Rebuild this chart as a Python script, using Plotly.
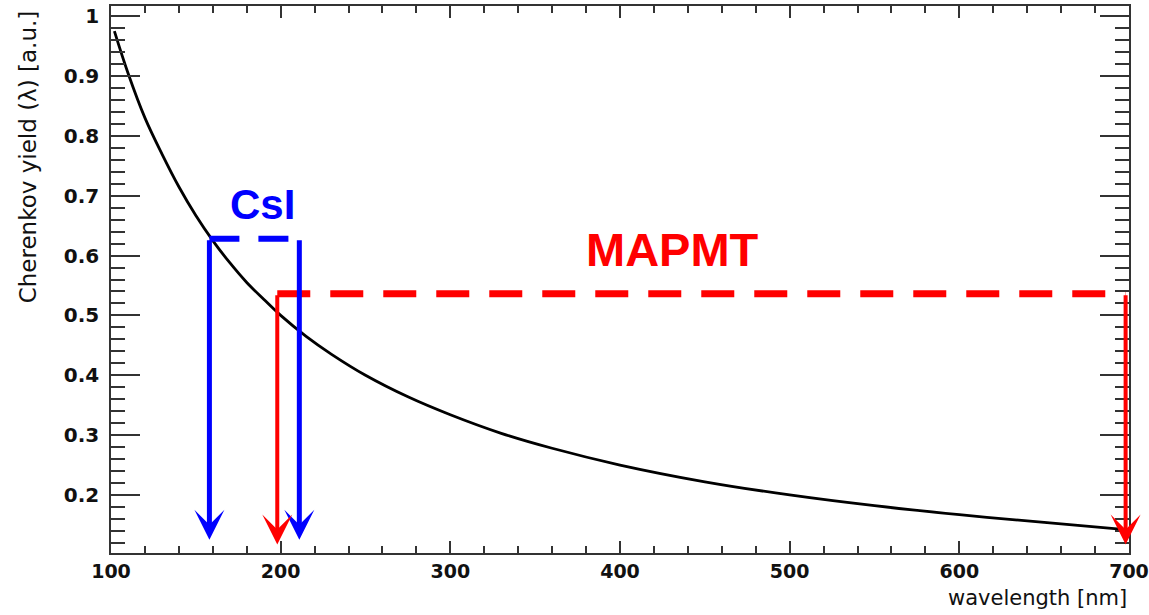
import plotly.graph_objects as go

# Cherenkov yield curve
wavelength_nm = [102, 110, 120, 130, 140, 150, 160, 170, 180, 190, 200, 215, 230, 250,
                 275, 300, 330, 360, 400, 450, 500, 550, 600, 650, 698]
yield_au = [0.975, 0.905, 0.830, 0.770, 0.715, 0.667, 0.625, 0.588, 0.555, 0.527, 0.500,
            0.465, 0.435, 0.400, 0.364, 0.334, 0.303, 0.278, 0.250, 0.222, 0.200, 0.182,
            0.167, 0.154, 0.142]

# CsI window
csi_lo, csi_hi, csi_level, csi_tip = 158, 211, 0.628, 0.125
# MAPMT window
mapmt_lo, mapmt_hi, mapmt_level, mapmt_tip = 198, 698, 0.536, 0.117

BLUE = "#0000ff"
RED = "#ff0000"

fig = go.Figure()
fig.add_trace(go.Scatter(x=wavelength_nm, y=yield_au, mode="lines",
                         line=dict(color="black", width=2.8, shape="spline"),
                         showlegend=False, hoverinfo="skip"))
fig.add_trace(go.Scatter(x=[csi_lo, csi_hi], y=[csi_level, csi_level], mode="lines",
                         line=dict(color=BLUE, width=6, dash="30px,19px"),
                         showlegend=False, hoverinfo="skip"))
fig.add_trace(go.Scatter(x=[mapmt_lo, mapmt_hi], y=[mapmt_level, mapmt_level], mode="lines",
                         line=dict(color=RED, width=7, dash="33px,20px"),
                         showlegend=False, hoverinfo="skip"))

arrows = [
    (csi_lo, csi_level, csi_tip, BLUE, 5, 1.0),
    (csi_hi, csi_level, csi_tip, BLUE, 5, 1.0),
    (mapmt_lo, mapmt_level, mapmt_tip, RED, 4, 1.25),
    (mapmt_hi, mapmt_level, mapmt_tip, RED, 4, 1.25),
]
for xv, ytop, ytip, col, w, sz in arrows:
    fig.add_annotation(x=xv, y=ytip, ax=xv, ay=ytop, xref="x", yref="y",
                       axref="x", ayref="y", showarrow=True, arrowhead=3,
                       arrowwidth=w, arrowsize=sz, arrowcolor=col, standoff=0, text="")

fig.add_annotation(x=189, y=0.686, xref="x", yref="y", text="<b>CsI</b>", showarrow=False,
                   font=dict(family="Liberation Sans", size=42, color=BLUE))
fig.add_annotation(x=431, y=0.61, xref="x", yref="y", text="<b>MAPMT</b>", showarrow=False,
                   font=dict(family="Liberation Sans", size=47, color=RED))

fig.add_annotation(x=-0.0815, y=0.995, xref="paper", yref="paper", textangle=-90,
                   xanchor="center", yanchor="top", showarrow=False,
                   text="Cherenkov yield (λ) [a.u.]",
                   font=dict(family="DejaVu Sans", size=23, color="#111"))
fig.add_annotation(x=1.0, y=-0.082, xref="paper", yref="paper",
                   xanchor="right", yanchor="middle", showarrow=False,
                   text="wavelength [nm]",
                   font=dict(family="DejaVu Sans", size=21, color="#111"))

axis_common = dict(showline=True, linecolor="#333", linewidth=1.5, mirror="ticks",
                   ticks="inside", tickcolor="#333", tickwidth=1.5, showgrid=False,
                   zeroline=False, automargin=False)

fig.update_xaxes(range=[100, 700], dtick=100, tick0=100, ticklen=12,
                 minor=dict(dtick=20, ticklen=7, ticks="inside", tickcolor="#333", tickwidth=1.5),
                 tickfont=dict(family="DejaVu Sans", size=19, color="#111", weight="bold"),
                 **axis_common)
fig.update_yaxes(range=[0.103, 1.017], dtick=0.1, tick0=0, ticklen=29,
                 minor=dict(dtick=0.02, ticklen=14, ticks="inside", tickcolor="#333", tickwidth=1.5),
                 tickfont=dict(family="DejaVu Sans", size=20, color="#111", weight="bold"),
                 ticklabelstandoff=6,
                 **axis_common)

fig.update_layout(width=1149, height=615, margin=dict(l=111, r=20, t=6, b=62),
                  plot_bgcolor="white", paper_bgcolor="white")

fig.write_html("out.html")
